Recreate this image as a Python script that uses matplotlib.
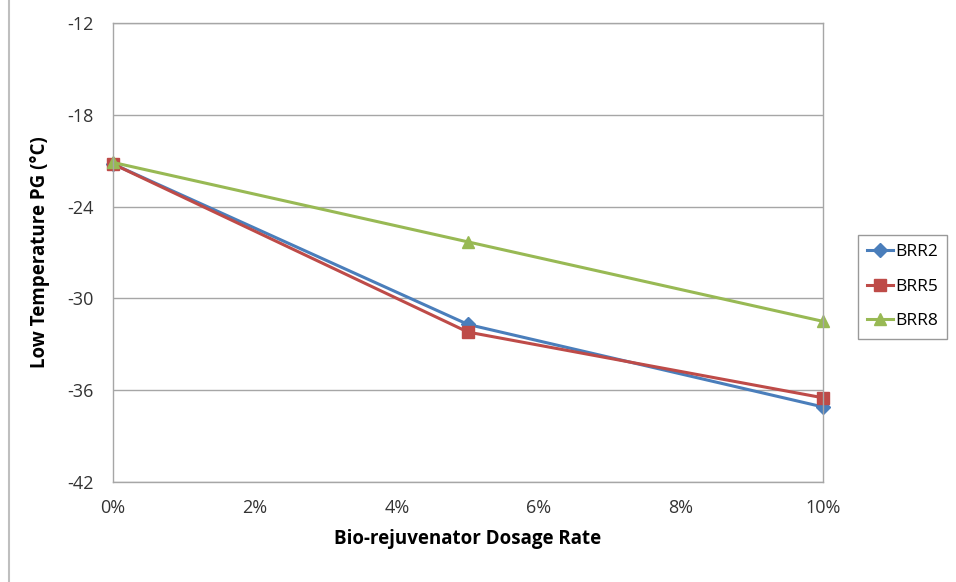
import numpy as np
import matplotlib.pyplot as plt
from matplotlib.lines import Line2D

plt.rcParams['font.family'] = ['Open Sans', 'DejaVu Sans']
plt.rcParams['axes.unicode_minus'] = False

dosage = [0, 5, 10]
brr2 = [-21.2, -31.7, -37.1]
brr5 = [-21.2, -32.2, -36.5]
brr8 = [-21.1, -26.3, -31.5]
yticks = [-42, -36, -30, -24, -18, -12]
xticks = [0, 2, 4, 6, 8, 10]

fig = plt.figure(figsize=(9.56, 5.82), dpi=100)
ax = fig.add_axes([0.118, 0.172, 0.743, 0.788])

ax.plot(dosage, brr2, color='#4A7EBB', lw=2.2, marker='D', ms=7, label='BRR2', clip_on=False)
ax.plot(dosage, brr5, color='#BE4B48', lw=2.2, marker='s', ms=9, label='BRR5', clip_on=False)
ax.plot(dosage, brr8, color='#98B954', lw=2.2, marker='^', ms=9, label='BRR8', clip_on=False)

ax.set_xlim(0, 10)
ax.set_ylim(-42, -12)
ax.set_xticks(xticks)
ax.set_xticklabels(['%d%%' % x for x in xticks])
ax.set_yticks(yticks)
ax.yaxis.grid(True, color='#a6a6a6', lw=1)
ax.set_axisbelow(True)
for s in ax.spines.values():
    s.set_color('#a6a6a6')
    s.set_linewidth(1)
ax.tick_params(length=0, labelsize=13, pad=14)
ax.tick_params(axis='x', pad=12)
for lbl in ax.get_xticklabels() + ax.get_yticklabels():
    lbl.set_color('#333333')

ax.set_xlabel('Bio-rejuvenator Dosage Rate', fontsize=13.5, fontweight='bold', labelpad=9)
ax.set_ylabel('Low Temperature PG (\u00b0C)', fontsize=13.5, fontweight='bold', labelpad=12)

leg = fig.legend(loc='upper left', bbox_to_anchor=(0.897, 0.597), fontsize=12.5,
                 frameon=True, fancybox=False, edgecolor='#808080',
                 handlelength=1.5, borderpad=0.55, labelspacing=1.05, handletextpad=0.1,
                 borderaxespad=0)
leg.get_frame().set_linewidth(1)

fig.add_artist(Line2D([0.009, 0.009], [0, 1], color='#bfbfbf', lw=1.5, transform=fig.transFigure))

fig.savefig('out.png', dpi=100)
